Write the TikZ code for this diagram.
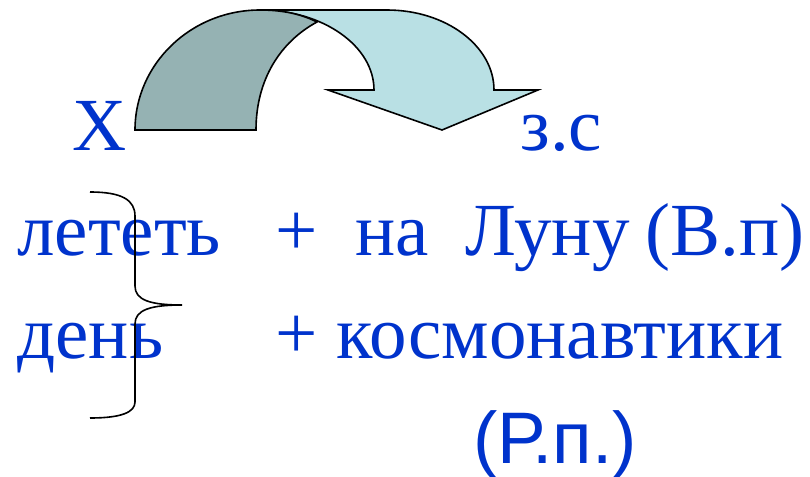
\documentclass[tikz,border=0pt]{standalone}
\usepackage{fontspec}
\setmainfont{Liberation Serif}
\newfontfamily\sansfont{Liberation Sans}
\usepackage{xcolor}
\usetikzlibrary{positioning}
\definecolor{wdblue}{HTML}{0033CC}
\definecolor{wddark}{HTML}{95B2B3}
\definecolor{wdlight}{HTML}{B9E0E4}
\tikzset{
  wd/.style    = {anchor=base west, inner sep=0pt, text=wdblue,
                  font=\fontsize{37.5}{40}\selectfont},
  wdsans/.style= {wd, font=\sansfont\fontsize{36.5}{40}\selectfont},
  band/.style  = {draw=black, line width=0.8pt, line join=miter},
  brace/.style = {draw=black, line width=0.8pt},
}

\begin{document}
\begin{tikzpicture}[x=0.5pt,y=-0.5pt]
  \useasboundingbox (0,0) rectangle (810,477);
  % curved arrow
  \path[band, fill=wdlight] (260,10) -- (387,10)
    .. controls (446,10) and (494,46) .. (494,90)
    -- (538,90) -- (442,130) -- (328,90) -- (374,90)
    .. controls (374,46) and (323,10) .. (260,10) -- cycle;
  \path[band, fill=wddark] (135,130)
    .. controls (135,64) and (191,10) .. (260,10)
    .. controls (285,10) and (303,15) .. (317,22)
    .. controls (280,42) and (256,80) .. (256,130) -- cycle;
  % words
  \node[wd] (xx)    at (72,150)  {Х};
  \node[wd] (zs)    at (520,150) {з.с};
  \node[wd] (letet) at (17,255)  {лететь};
  \node[wd] (plus1) at (275,255) {+};
  \node[wd] (na)    at (355,255) {на};
  \node[wd] (lunu)  at (465,255) {Луну};
  \node[wd] (vp)    at (645,255) {(В.п)};
  \node[wd] (den)   at (17,358)  {день};
  \node[wd] (plus2) at (275,358) {+};
  \node[wd] (kosm)  at (336,358) {космонавтики};
  \node[wdsans] (rp) at (473,463) {(Р.п.)};
  % brace
  \draw[brace] (90,192) .. controls (122,192) and (135,200) .. (135,216)
    -- (135,286) .. controls (135,300) and (150,305) .. (182,305)
    .. controls (150,305) and (135,310) .. (135,324)
    -- (135,402) .. controls (135,412) and (122,418) .. (90,418);
\end{tikzpicture}
\end{document}
